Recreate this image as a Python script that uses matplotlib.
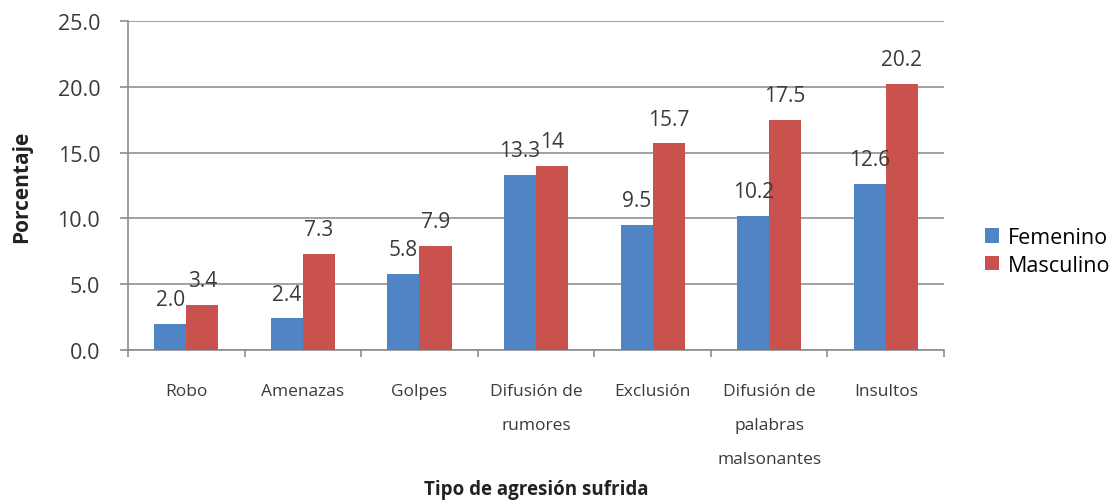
import matplotlib
matplotlib.use("Agg")
from matplotlib import pyplot as plt
import numpy as np

categorias = ["Robo", "Amenazas", "Golpes", "Difusión de\nrumores", "Exclusión",
              "Difusión de\npalabras\nmalsonantes", "Insultos"]
femenino = [2.0, 2.4, 5.8, 13.3, 9.5, 10.2, 12.6]
masculino = [3.4, 7.3, 7.9, 14, 15.7, 17.5, 20.2]
etiquetas_fem = ["2.0", "2.4", "5.8", "13.3", "9.5", "10.2", "12.6"]
etiquetas_mas = ["3.4", "7.3", "7.9", "14", "15.7", "17.5", "20.2"]
yticks = [0, 5, 10, 15, 20, 25]

plt.rcParams['font.family'] = ['Open Sans', 'DejaVu Sans']
texto = '#3a3a3a'

fig = plt.figure(figsize=(11.2, 5.02), dpi=100)
ax = fig.add_axes([0.1143, 0.3008, 0.7286, 0.6554])

x = np.arange(len(categorias))
w = 0.275
azul = '#4F85C4'
rojo = '#C9524E'
b1 = ax.bar(x - w/2, femenino, w, color=azul, label='Femenino', zorder=3)
b2 = ax.bar(x + w/2, masculino, w, color=rojo, label='Masculino', zorder=3)

for bars, labs in ((b1, etiquetas_fem), (b2, etiquetas_mas)):
    for r, t in zip(bars, labs):
        ax.annotate(t, (r.get_x() + r.get_width()/2, r.get_height()),
                    xytext=(0, 17.5), textcoords='offset points',
                    ha='center', va='center', fontsize=15, color=texto)

ax.set_xlim(-0.5, len(categorias) - 0.5)
ax.set_ylim(0, 25)
ax.set_yticks(yticks)
ax.set_yticklabels(["%.1f" % v for v in yticks], fontsize=15.5, color=texto)
ax.yaxis.grid(True, color='#9a9a9a', linewidth=1.3, zorder=0)
ax.set_axisbelow(True)

ax.set_xticks(x)
ax.set_xticklabels(categorias, fontsize=12.5, color=texto, linespacing=2.5)
ax.set_xticks(np.arange(-0.5, len(categorias)), minor=True)
ax.tick_params(axis='x', which='major', length=0, pad=24)
ax.tick_params(axis='x', which='minor', length=5, color='#8c8c8c', width=1.2)
ax.tick_params(axis='y', length=6, color='#8c8c8c', width=1.2, pad=14)

for s in ('top', 'right'):
    ax.spines[s].set_visible(False)
for s in ('left', 'bottom'):
    ax.spines[s].set_color('#8c8c8c')
    ax.spines[s].set_linewidth(1.2)

fig.text(22 / 1120, 1 - 187 / 502, 'Porcentaje', rotation=90, fontsize=15,
         fontweight='bold', color='#222222', ha='center', va='center')
fig.text(536 / 1120, 1 - 490 / 502, 'Tipo de agresión sufrida', fontsize=13.5,
         fontweight='bold', color='#222222', ha='center', va='center')

ax.legend(loc='center left', bbox_to_anchor=(1.05, 0.30), frameon=False,
          fontsize=15.5, handlelength=0.65, handleheight=0.65, handletextpad=0.4,
          labelspacing=0.3, borderaxespad=0, borderpad=0)

plt.savefig('out.png', dpi=100)
